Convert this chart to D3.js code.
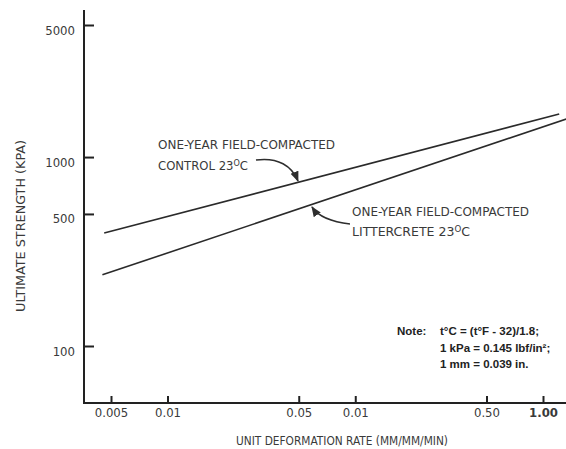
<!DOCTYPE html>
<head>
  <meta charset="utf-8">
  <script src="https://d3js.org/d3.v7.min.js"></script>
  <style>
  body { margin: 0; background: #fff; }
  svg { display: block; }
  .lbl {
    font-family: 'DejaVu Sans Condensed', 'Liberation Sans Narrow', 'DejaVu Sans', sans-serif;
    fill: #3a3a3a;
    font-size: 13px;
  }
  .note {
    font-family: 'Liberation Sans', Arial, sans-serif;
    font-weight: bold;
    font-size: 11.5px;
    fill: #222;
  }
  .curve { fill: none; stroke: #2e2e2e; stroke-width: 1.5px; }
</style>
</head>
<body>
<svg width="566" height="449"></svg>

<script type="text/javascript">
// axis ticks
var xTicks = [0.005, 0.01, 0.05, 0.1, 0.5, 1.0];
var xTickLabels = ["0.005", "0.01", "0.05", "0.01", "0.50", "1.00"];   // "0.01" misprint kept from the original
var yTicks = [100, 500, 1000, 5000];
var yTickLabels = ["100", "500", "1000", "5000"];

// the two regression lines (rate mm/mm/min, strength kPa)
var controlRate = [0.0046, 1.22];
var controlStrength = [396, 1690];
var littercreteRate = [0.0045, 1.33];
var littercreteStrength = [238, 1590];

var svg = d3.select("svg");

var x = d3.scaleLog().domain([0.005, 1]).range([111, 543]);
var y = d3.scaleLog().domain([100, 5000]).range([346, 25]);

var x0 = 84, yBase = 403;

// axis lines
svg.append("line").attr("x1", x0).attr("x2", x0).attr("y1", 10).attr("y2", yBase)
  .attr("stroke", "#222").attr("stroke-width", 2);
svg.append("line").attr("x1", x0 - 1).attr("x2", 566).attr("y1", yBase).attr("y2", yBase)
  .attr("stroke", "#222").attr("stroke-width", 2);

// x axis ticks + labels
var xAxis = d3.axisBottom(x)
  .tickValues(xTicks)
  .tickSizeInner(-7).tickSizeOuter(0).tickPadding(5)
  .tickFormat(function(d, i) { return xTickLabels[i]; });
var gx = svg.append("g").attr("transform", "translate(0," + yBase + ")").call(xAxis);
gx.select(".domain").remove();
gx.selectAll(".tick line").attr("stroke", "#222").attr("stroke-width", 2);
gx.selectAll(".tick text").attr("class", "lbl").attr("font-size", null).attr("font-family", null)
  .attr("fill", null).style("font-size", "13px");
gx.selectAll(".tick text").filter(function(d) { return d === 1; }).style("font-weight", "bold");

// y axis ticks + labels
var yAxis = d3.axisLeft(y)
  .tickValues(yTicks)
  .tickSizeInner(-10).tickSizeOuter(0).tickPadding(9)
  .tickFormat(function(d, i) { return yTickLabels[i]; });
var gy = svg.append("g").attr("transform", "translate(" + x0 + ",0)").call(yAxis);
gy.select(".domain").remove();
gy.selectAll(".tick line").attr("stroke", "#222").attr("stroke-width", 2);
gy.selectAll(".tick text").attr("class", "lbl").attr("font-size", null).attr("font-family", null)
  .attr("fill", null).attr("dy", 9).style("font-size", "13px");

// axis titles
svg.append("text").attr("class", "lbl")
  .attr("transform", "translate(25,226) rotate(-90)")
  .attr("text-anchor", "middle")
  .attr("textLength", 172).attr("lengthAdjust", "spacingAndGlyphs")
  .text("ULTIMATE STRENGTH (KPA)");

svg.append("text").attr("class", "lbl")
  .attr("x", 342).attr("y", 445)
  .attr("text-anchor", "middle")
  .attr("textLength", 212).attr("lengthAdjust", "spacingAndGlyphs")
  .text("UNIT DEFORMATION RATE (MM/MM/MIN)");

// data lines
var line = d3.line()
  .x(function(d) { return x(d[0]); })
  .y(function(d) { return y(d[1]); });

[[controlRate, controlStrength], [littercreteRate, littercreteStrength]].forEach(function(s) {
  svg.append("path")
    .datum(d3.zip(s[0], s[1]))
    .attr("d", line)
    .attr("fill", "none")
    .attr("stroke", "#2a2a2a")
    .attr("stroke-width", 1.6);
});

// labels
function label(xp, yp, width, main, sup, tail) {
  var t = svg.append("text").attr("class", "lbl").attr("x", xp).attr("y", yp)
    .attr("textLength", width).attr("lengthAdjust", "spacingAndGlyphs");
  t.append("tspan").text(main);
  if (sup) {
    t.append("tspan").attr("dy", -4).style("font-size", "9px").text(sup);
    t.append("tspan").attr("dy", 4).text(tail);
  }
}
label(158, 149, 177, "ONE-YEAR FIELD-COMPACTED");
label(158, 170, 90, "CONTROL 23", "O", "C");
label(352, 216, 177, "ONE-YEAR FIELD-COMPACTED");
label(352, 236, 118, "LITTERCRETE 23", "O", "C");

// pointer arrows
svg.append("defs").append("marker")
  .attr("id", "ah").attr("viewBox", "0 0 10 10").attr("refX", 9).attr("refY", 5)
  .attr("markerWidth", 7).attr("markerHeight", 7).attr("orient", "auto")
  .append("path").attr("d", "M0,1 L10,5 L0,9 Z").attr("fill", "#2e2e2e");

svg.append("path").attr("class", "curve")
  .attr("d", "M256,160 C278,157 292,166 298,181")
  .attr("marker-end", "url(#ah)");
svg.append("path").attr("class", "curve")
  .attr("d", "M350,224 C332,222 318,216 312,207")
  .attr("marker-end", "url(#ah)");

// note
var notes = [
  ["Note:", "t\u00B0C = (t\u00B0F - 32)/1.8;"],
  ["", "1 kPa = 0.145 lbf/in\u00B2;"],
  ["", "1 mm = 0.039 in."]
];
notes.forEach(function(n, i) {
  var yy = 335 + i * 16.5;
  if (n[0]) svg.append("text").attr("class", "note").attr("x", 397).attr("y", yy).text(n[0]);
  svg.append("text").attr("class", "note").attr("x", 440).attr("y", yy).text(n[1]);
});
</script>
</body>
</html>
